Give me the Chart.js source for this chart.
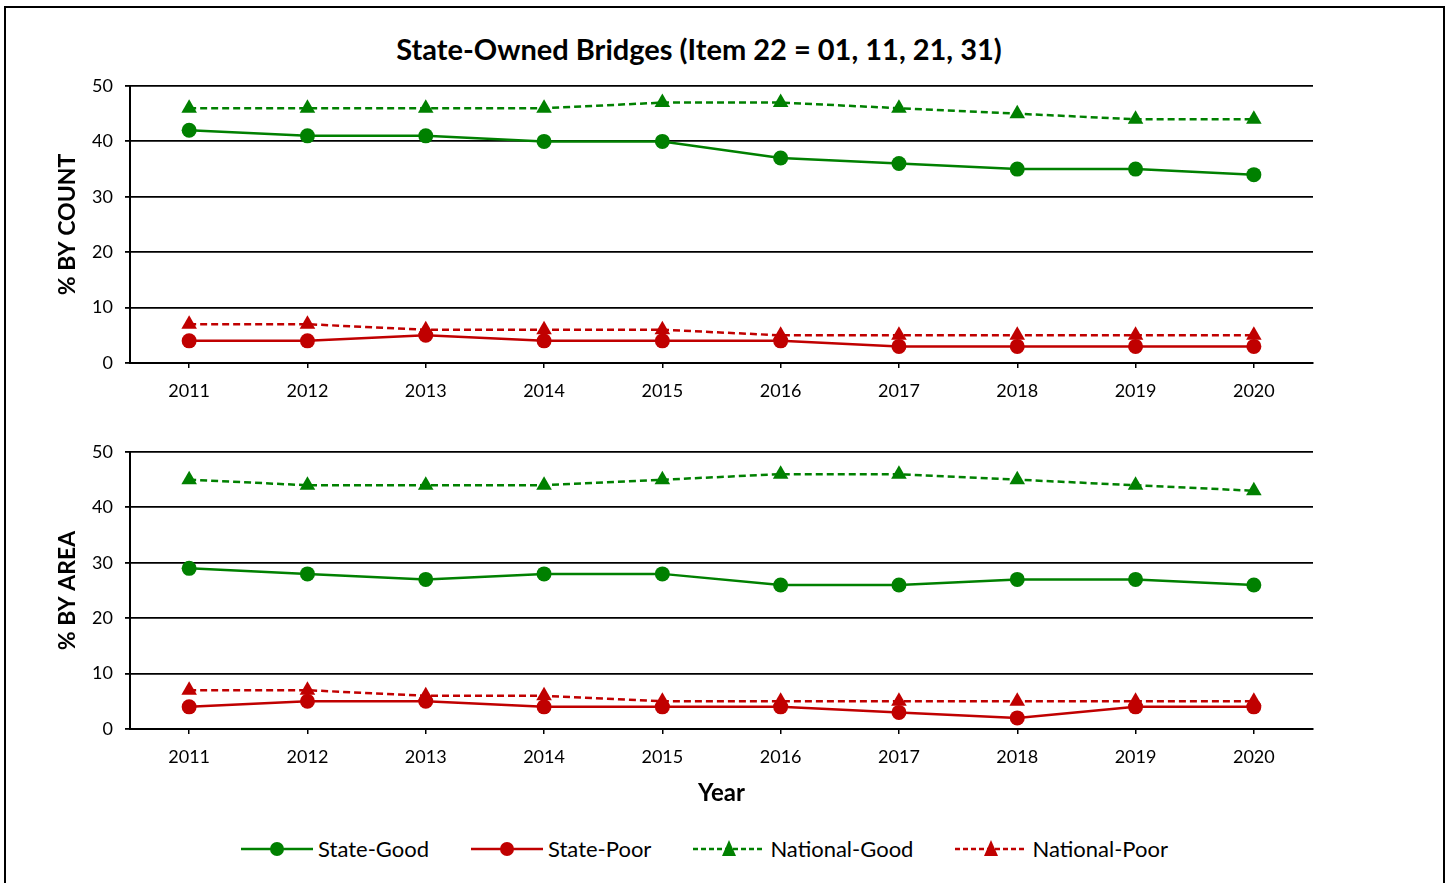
<!DOCTYPE html>
<html>
<head>
<meta charset="utf-8">
<script src="https://cdn.jsdelivr.net/npm/chart.js@4.4.1/dist/chart.umd.min.js"></script>
<style>
  body { margin: 0; background: #fff; }
  #wrap { position: relative; width: 1449px; height: 883px; overflow: hidden; font-family: Lato, sans-serif; }
  #frame { position: absolute; left: 4px; top: 6px; width: 1437px; height: 900px; border: 2px solid #000; border-bottom: none; }
  #title { position: absolute; left: 0; top: 31px; width: 1398px; text-align: center; font-size: 29px; font-weight: bold; line-height: 36px; color: #000; }
  #c1 { position: absolute; left: 0; top: 0; }
  #c2 { position: absolute; left: 0; top: 410px; }
  #legend { position: absolute; left: 0; top: 836px; width: 1409px; display: flex; justify-content: center; gap: 42px; }
  .item { display: flex; align-items: center; gap: 5px; font-size: 22px; line-height: 26px; color: #000; }
</style>
</head>
<body>
<div id="wrap">
  <div id="frame"></div>
  <div id="title">State-Owned Bridges (Item 22 = 01, 11, 21, 31)</div>
  <canvas id="c1" width="1449" height="410"></canvas>
  <canvas id="c2" width="1449" height="420"></canvas>
  <div id="legend"></div>
</div>
<script>
var years = ["2011", "2012", "2013", "2014", "2015", "2016", "2017", "2018", "2019", "2020"];

// % by count
var countStateGood = [42, 41, 41, 40, 40, 37, 36, 35, 35, 34];
var countStatePoor = [4, 4, 5, 4, 4, 4, 3, 3, 3, 3];
var countNationalGood = [46, 46, 46, 46, 47, 47, 46, 45, 44, 44];
var countNationalPoor = [7, 7, 6, 6, 6, 5, 5, 5, 5, 5];

// % by area
var areaStateGood = [29, 28, 27, 28, 28, 26, 26, 27, 27, 26];
var areaStatePoor = [4, 5, 5, 4, 4, 4, 3, 2, 4, 4];
var areaNationalGood = [45, 44, 44, 44, 45, 46, 46, 45, 44, 43];
var areaNationalPoor = [7, 7, 6, 6, 5, 5, 5, 5, 5, 5];

var GREEN = "#008000";
var RED = "#C00000";

function makeDatasets(good, poor, natGood, natPoor) {
  return [
    { label: "State-Good", data: good, borderColor: GREEN, backgroundColor: GREEN,
      borderWidth: 2.5, pointStyle: "circle", pointRadius: 7.5, pointBorderWidth: 0 },
    { label: "State-Poor", data: poor, borderColor: RED, backgroundColor: RED,
      borderWidth: 2.5, pointStyle: "circle", pointRadius: 7.5, pointBorderWidth: 0 },
    { label: "National-Good", data: natGood, borderColor: GREEN, backgroundColor: GREEN,
      borderWidth: 2.5, borderDash: [7, 4], pointStyle: "triangle", pointRadius: 9, pointBorderWidth: 0 },
    { label: "National-Poor", data: natPoor, borderColor: RED, backgroundColor: RED,
      borderWidth: 2.5, borderDash: [7, 4], pointStyle: "triangle", pointRadius: 9, pointBorderWidth: 0 },
  ];
}

function makeScales(yTitle, xHeight, xTitle) {
  return {
    x: {
      offset: true,
      grid: { drawOnChartArea: false, drawTicks: true, tickLength: 5, color: "#000", lineWidth: 1.5, offset: false },
      border: { display: true, color: "#000", width: 2 },
      ticks: { color: "#000", font: { family: "Lato", size: 18 }, padding: 12 },
      title: xTitle ? { display: true, text: xTitle, color: "#000",
        font: { family: "Lato", size: 24, weight: "bold" }, padding: { top: 4, bottom: 22 } } : { display: false },
      afterFit: function (scale) { scale.height = xHeight; },
    },
    y: {
      min: 0,
      max: 50,
      ticks: { stepSize: 10, color: "#000", font: { family: "Lato", size: 18 }, padding: 12 },
      grid: { color: "#000", lineWidth: 1.8, tickLength: 5 },
      border: { display: true, color: "#000", width: 2 },
      title: { display: true, text: yTitle, color: "#000",
        font: { family: "Lato", size: 23, weight: "bold" }, padding: { top: 54, bottom: 0 } },
      afterFit: function (scale) { scale.width = 130; },
    },
  };
}

Chart.defaults.font.family = "Lato";
Chart.defaults.color = "#000";

new Chart(document.getElementById("c1"), {
  type: "line",
  data: { labels: years, datasets: makeDatasets(countStateGood, countStatePoor, countNationalGood, countNationalPoor) },
  options: {
    responsive: false,
    animation: false,
    layout: { padding: { left: 0, right: 136, top: 86, bottom: 0 } },
    plugins: { legend: { display: false }, tooltip: { enabled: false } },
    scales: makeScales("% BY COUNT", 47, null),
  },
});

var chart2 = new Chart(document.getElementById("c2"), {
  type: "line",
  data: { labels: years, datasets: makeDatasets(areaStateGood, areaStatePoor, areaNationalGood, areaNationalPoor) },
  options: {
    responsive: false,
    animation: false,
    layout: { padding: { left: 0, right: 136, top: 42, bottom: 0 } },
    plugins: { legend: { display: false }, tooltip: { enabled: false } },
    scales: makeScales("% BY AREA", 101, "Year"),
  },
});

// html legend: line sample with marker, then the label
var legendBox = document.getElementById("legend");
chart2.data.datasets.forEach(function (ds) {
  var item = document.createElement("div");
  item.className = "item";
  var c = document.createElement("canvas");
  c.width = 72;
  c.height = 24;
  var ctx = c.getContext("2d");
  ctx.strokeStyle = ds.borderColor;
  ctx.lineWidth = ds.borderWidth;
  ctx.setLineDash(ds.pointStyle === "circle" ? [] : [5, 3]);
  ctx.beginPath();
  ctx.moveTo(0, 12);
  ctx.lineTo(72, 12);
  ctx.stroke();
  ctx.setLineDash([]);
  ctx.fillStyle = ds.backgroundColor;
  ctx.beginPath();
  if (ds.pointStyle === "circle") {
    ctx.arc(36, 12, 7, 0, Math.PI * 2);
  } else {
    ctx.moveTo(36, 3);
    ctx.lineTo(43, 19);
    ctx.lineTo(29, 19);
    ctx.closePath();
  }
  ctx.fill();
  var span = document.createElement("span");
  span.textContent = ds.label;
  item.appendChild(c);
  item.appendChild(span);
  legendBox.appendChild(item);
});
</script>
</body>
</html>
